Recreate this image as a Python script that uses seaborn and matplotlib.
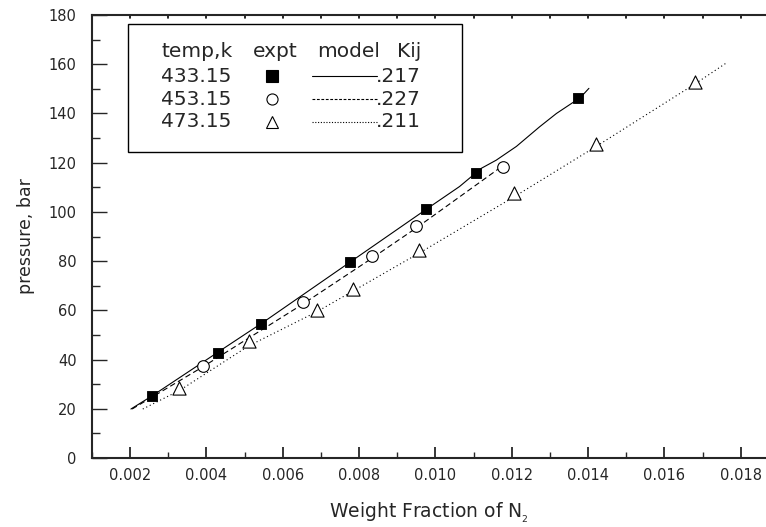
import numpy as np
import pandas as pd
import matplotlib
matplotlib.use("Agg")
import matplotlib.pyplot as plt
from matplotlib.patches import Rectangle
from matplotlib.ticker import MultipleLocator, FormatStrFormatter
import seaborn as sns

# legend table
header = ["temp,k", "expt", "model", "Kij"]
temps = ["433.15", "453.15", "473.15"]
kij = [".217", ".227", ".211"]

# experimental points
x_433 = [0.00257, 0.00429, 0.00543, 0.00777, 0.00976, 0.01107, 0.01374]
y_433 = [25.3, 42.8, 54.6, 79.5, 101.0, 115.7, 146.4]
x_453 = [0.0039, 0.00652, 0.00834, 0.0095, 0.01177]
y_453 = [37.5, 63.4, 82.1, 94.3, 118.4]
x_473 = [0.00329, 0.00512, 0.0069, 0.00783, 0.00956, 0.01207, 0.0142, 0.01679]
y_473 = [28.6, 47.5, 60.0, 68.5, 84.5, 107.5, 127.5, 152.9]

# model curves
mx_433 = [0.00202, 0.0026, 0.0043, 0.0055, 0.0078, 0.0098, 0.01063, 0.0112,
          0.01159, 0.01212, 0.01273, 0.01317, 0.0138, 0.01402]
my_433 = [19.9, 25.5, 43.0, 55.3, 80.0, 101.5, 110.3, 117.7,
          121.0, 126.6, 134.6, 140.0, 146.5, 150.2]
mx_453 = [0.00205, 0.0039, 0.0065, 0.0083, 0.0095, 0.01185]
my_453 = [19.9, 37.0, 62.3, 80.8, 93.5, 119.7]
mx_473 = [0.00233, 0.0033, 0.0051, 0.0069, 0.0078, 0.0096, 0.0121, 0.0142,
          0.0168, 0.01761]
my_473 = [19.9, 27.5, 45.5, 59.5, 67.5, 83.5, 106.5, 126.5, 152.0, 160.4]

sns.set_style("ticks")
plt.rcParams["font.family"] = ["DejaVu Sans"]

fig = plt.figure(figsize=(7.66, 5.27), dpi=100)
ax = fig.add_axes([92 / 766, 69 / 527, 674 / 766, 443 / 527])

lw = 0.8
sns.lineplot(x=mx_433, y=my_433, ax=ax, color="black", lw=lw, sort=False)
sns.lineplot(x=mx_453, y=my_453, ax=ax, color="black", lw=lw, sort=False,
             linestyle=(0, (5, 3)))
sns.lineplot(x=mx_473, y=my_473, ax=ax, color="black", lw=lw, sort=False,
             linestyle=(0, (1, 2.5)))

sns.scatterplot(x=x_433, y=y_433, ax=ax, marker="s", s=60, color="black",
                edgecolor="black", zorder=3)
sns.scatterplot(x=x_453, y=y_453, ax=ax, marker="o", s=70, facecolor="white",
                edgecolor="black", linewidth=0.8, zorder=3)
sns.scatterplot(x=x_473, y=y_473, ax=ax, marker="^", s=90, facecolor="white",
                edgecolor="black", linewidth=0.8, zorder=3)

ax.set_xlim(0.001, 0.01866)
ax.set_ylim(0, 180)
ax.xaxis.set_minor_locator(MultipleLocator(0.001))
ax.xaxis.set_major_formatter(FormatStrFormatter("%.3f"))
ax.yaxis.set_major_locator(MultipleLocator(20))
ax.yaxis.set_minor_locator(MultipleLocator(10))
ax.set_xticks([t / 1000 for t in range(2, 19, 2)])

for s in ["left", "bottom", "top"]:
    ax.spines[s].set_linewidth(1.5)
ax.spines["right"].set_visible(False)

ax.tick_params(axis="x", which="major", direction="in", length=8, width=1.3,
               labelsize=10.5, pad=7, top=False)
ax.tick_params(axis="x", which="minor", direction="in", length=4, width=1.0,
               top=False)
ax.tick_params(axis="y", which="both", direction="in", width=1.0,
               labelsize=10.5, pad=11)
ax.tick_params(axis="y", which="major", length=11)
ax.tick_params(axis="y", which="minor", length=6)

# small ticks along the top spine
for t in np.arange(0.002, 0.0186, 0.001):
    ax.plot([t, t], [180, 178.6], color="black", lw=1.2, clip_on=False)

ax.set_xlabel("Weight Fraction of N$_{_2}$", fontsize=13.5, labelpad=13)
ax.set_ylabel("pressure, bar", fontsize=12.5, labelpad=10)

# legend table
tr = ax.transAxes
ax.add_patch(Rectangle((0.0529, 0.690), 0.4961, 0.289, transform=tr,
                       facecolor="white", edgecolor="black", lw=1.0, zorder=4))
fs = 14.5
for hx, h in zip([0.1024, 0.239, 0.334, 0.4525], header):
    ax.text(hx, 0.917, h, transform=tr, fontsize=fs, va="center", ha="left",
            zorder=5)
row_y = [0.862, 0.810, 0.759]
styles = [("s", "black", "-"), ("o", "white", (0, (2.5, 1.5))),
          ("^", "white", (0, (1, 1.5)))]
for ty, t, k, (m, fc, ls) in zip(row_y, temps, kij, styles):
    ax.text(0.1024, ty, t, transform=tr, fontsize=fs, va="center", ha="left",
            zorder=5)
    ax.plot([0.2666], [ty], transform=tr, marker=m, ms=8, mfc=fc, mec="black",
            mew=0.8, ls="none", zorder=5)
    ax.plot([0.3264, 0.4228], [ty, ty], transform=tr, color="black", lw=0.8,
            linestyle=ls, zorder=5)
    ax.text(0.421, ty, k, transform=tr, fontsize=fs, va="center", ha="left",
            zorder=5)

fig.savefig("out.png", dpi=100)
